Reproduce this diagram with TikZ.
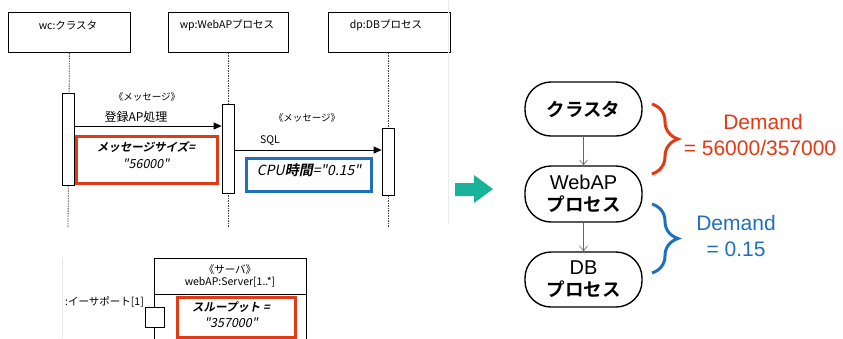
\documentclass[tikz,border=0pt]{standalone}
\usepackage{fontspec}
\setmainfont{Liberation Sans}
\newfontfamily\jp{Noto Sans CJK JP}[ItalicFont={Noto Sans CJK JP}, ItalicFeatures={FakeSlant=0.2}, BoldFont={Noto Sans CJK JP Bold}, BoldItalicFont={Noto Sans CJK JP Bold}, BoldItalicFeatures={FakeSlant=0.2}]
\usetikzlibrary{arrows.meta,decorations.pathreplacing}
\definecolor{myred}{RGB}{226,58,20}
\definecolor{myblue}{RGB}{30,112,190}
\definecolor{myteal}{RGB}{24,178,152}
\begin{document}
\begin{tikzpicture}[x=1pt,y=-1pt,
  objbox/.style={draw, line width=0.8pt, fill=white, inner sep=0pt, anchor=north west},
  lifeline/.style={dash pattern=on 1.5pt off 1pt, line width=0.8pt, draw=black!75},
  actbar/.style={draw, fill=white, line width=0.8pt, inner sep=0pt, minimum width=12pt, anchor=north},
  msg/.style={-{Triangle[length=8pt,width=7pt]}, line width=0.8pt},
  small/.style={font=\jp\fontsize{10.5}{12}\selectfont, inner sep=0pt},
  stereo/.style={font=\jp\fontsize{9.5}{11}\selectfont, inner sep=0pt},
  smallit/.style={font=\jp\itshape\fontsize{12.5}{14}\selectfont, inner sep=0pt},
  smallbi/.style={font=\jp\bfseries\itshape\fontsize{11.5}{13}\selectfont, inner sep=0pt},
  redbox/.style={draw=myred, line width=3pt, inner sep=0pt, anchor=north west},
  bluebox/.style={draw=myblue, line width=3pt, inner sep=0pt, anchor=north west},
  procnode/.style={draw, line width=1.4pt, rounded corners=26pt, minimum width=117pt, minimum height=54pt, align=center, font=\fontsize{20}{23}\selectfont, inner sep=0pt},
  jpb/.style={font=\jp\bfseries\fontsize{18.5}{23}\selectfont},
  flow/.style={draw=black!60, line width=0.6pt, -{Straight Barb[length=5pt,width=8pt]}},
  demand/.style={font=\fontsize{21}{26}\selectfont, inner sep=0pt},
  brace/.style={line width=3pt, decorate, decoration={brace, amplitude=26pt, aspect=0.5}}
]
\useasboundingbox (0,0) rectangle (843,338);

% lifeline boxes
\node[objbox, minimum width=122pt, minimum height=40pt] (wc) at (8,12) {};
\node[objbox, minimum width=120pt, minimum height=40pt] (wp) at (168,12) {};
\node[objbox, minimum width=122pt, minimum height=40pt] (dp) at (328,12) {};
\node[small] (wct) at (68,25) {wc:クラスタ};
\node[small] (wpt) at (227,25) {wp:WebAPプロセス};
\node[small] (dpt) at (386,25) {dp:DBプロセス};

\coordinate (wcend) at (68,227);
\coordinate (wpend) at (228,227);
\coordinate (dpend) at (388,227);
\draw[lifeline] (wc.south) -- (wcend);
\draw[lifeline] (wp.south -| wpend) -- (wpend);
\draw[lifeline] (dp.south -| dpend) -- (dpend);

% activation bars
\node[actbar, minimum height=92pt] (barwc) at (68,93) {};
\node[actbar, minimum height=89pt] (barwp) at (228,104) {};
\node[actbar, minimum height=67pt] (bardp) at (388,128) {};

% messages
\node[stereo] (st1) at (147,97) {《メッセージ》};
\node[small, font=\jp\fontsize{12}{14}\selectfont] (m1) at (136,117) {登録AP処理};
\draw[msg] (barwc.east |- 0,126) -- (barwp.west |- 0,126);
\node[stereo] (st2) at (307,118) {《メッセージ》};
\node[small] (m2) at (270,141) {SQL};
\draw[msg] (barwp.east |- 0,150) -- (bardp.west |- 0,150);

% tagged values
\node[redbox, minimum width=141pt, minimum height=47pt] (rb1) at (75,135) {};
\node[smallbi] (rb1a) at (146,147) {メッセージサイズ=};
\node[smallit] (rb1b) at (146,164) {"56000"};
\node[bluebox, minimum width=125pt, minimum height=33pt] (bb1) at (245,157) {};
\node[font=\jp\fontsize{14}{16}\selectfont, inner sep=0pt] (bb1t) at (309,170) {\itshape CPU\bfseries 時間\mdseries ="0.15"};

% server part
\draw[black!10, line width=0.6pt] (62,258) -- (62,338);
\node[objbox, minimum width=152pt, minimum height=90pt] (srv) at (154,258) {};
\draw[line width=0.8pt] (srv.west |- 0,294) coordinate (dv1) -- (srv.east |- 0,294) coordinate (dv2);
\node[small] (srvst) at (230,270) {《サーバ》};
\node[small] (srvnm) at (230,282) {webAP:Server[1..*]};
\node[objbox, minimum width=19pt, minimum height=20pt] (port) at (145,307) {};
\node[small, anchor=east] (portl) at (144,302) {:イーサポート[1]};
\node[redbox, minimum width=118pt, minimum height=40pt] (rb2) at (176,296) {};
\node[smallbi] (rb2a) at (231,307) {スループット =};
\node[smallit] (rb2b) at (231,323) {"357000"};

% teal arrow
\draw[black!8, line width=0.6pt] (448,0) -- (448,223);
\fill[myteal] (455,183) -- (474,183) -- (474,175) -- (493,189) -- (474,203) -- (474,196) -- (455,196) -- cycle;

% right flow
\node[procnode] (n1) at (583.5,109) {{\jp\bfseries\fontsize{18.5}{23}\selectfont クラスタ}};
\node[procnode, minimum height=56pt] (n2) at (583.5,194) {WebAP\\[-1pt]{\jp\bfseries\fontsize{18.5}{23}\selectfont プロセス}};
\node[procnode, minimum height=55pt] (n3) at (583.5,279.5) {DB\\[-1pt]{\jp\bfseries\fontsize{18.5}{23}\selectfont プロセス}};
\draw[flow] (n1) -- (n2);
\draw[flow] (n2) -- (n3);

\coordinate (b1s) at (652,104);
\coordinate (b1e) at (652,174);
\coordinate (b2s) at (652,204);
\coordinate (b2e) at (652,273);
\draw[brace, myred] (b1s) -- (b1e);
\draw[brace, myblue] (b2s) -- (b2e);

\node[demand, text=myred] (d1a) at (763,122) {Demand};
\node[demand, text=myred] (d1b) at (760,148) {= 56000/357000};
\node[demand, text=myblue] (d2a) at (736,223) {Demand};
\node[demand, text=myblue] (d2b) at (736,249) {= 0.15};
\end{tikzpicture}
\end{document}
